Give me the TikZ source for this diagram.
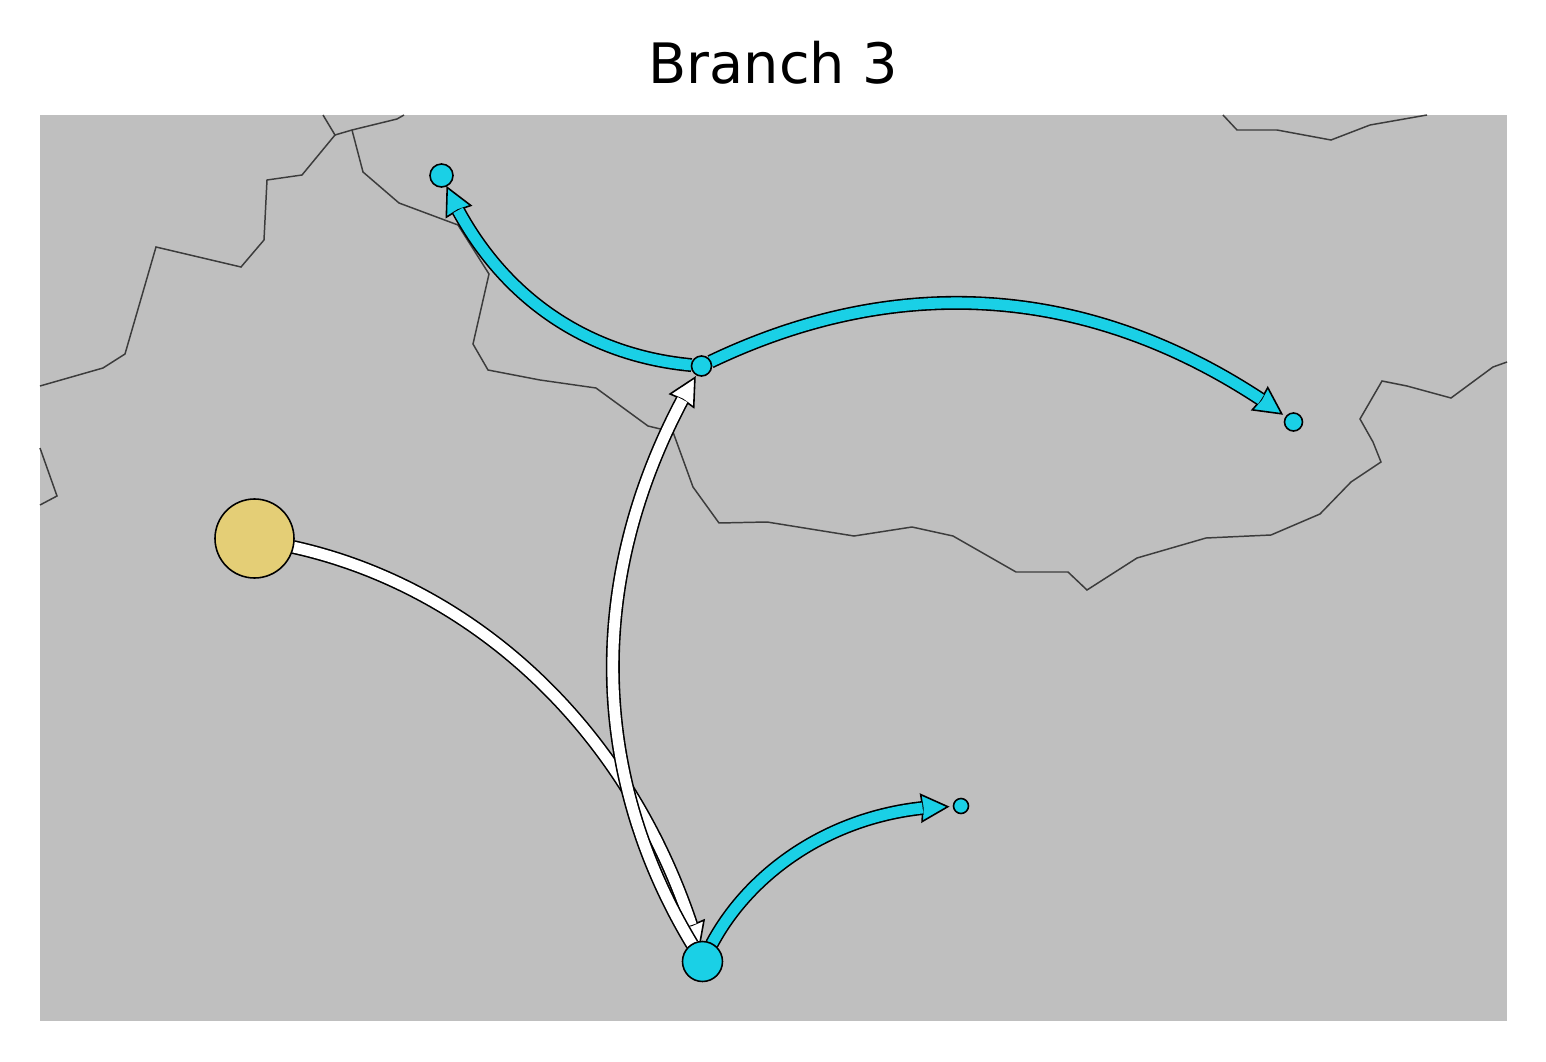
\documentclass[tikz,border=0pt]{standalone}
\usepackage{fontspec}
\setmainfont{DejaVu Sans}
\usetikzlibrary{arrows.meta, backgrounds}
\definecolor{mapgray}{RGB}{191, 191, 191}
\definecolor{bordergray}{RGB}{60, 60, 60}
\definecolor{branchblue}{RGB}{26, 208, 230}
\definecolor{sourcegold}{RGB}{228, 206, 118}

\begin{document}
\begin{tikzpicture}[
    stop/.style={circle, draw=black, line width=0.45pt, fill=branchblue, inner sep=0pt, outer sep=0pt},
    source/.style={stop, fill=sourcegold},
    border/.style={draw=bordergray, line width=0.42pt, line join=miter},
    flow/.style={line width=0.45pt, draw=black, double distance=0.108cm},
    whiteflow/.style={flow, double=white},
    blueflow/.style={flow, double=branchblue},
    whitehead/.style={line width=0.45pt, draw=black, -{Stealth[length=0.29cm, width=0.295cm, inset=0.015cm, line width=0.45pt, fill=white]}},
    bluehead/.style={line width=0.45pt, draw=black, -{Stealth[length=0.29cm, width=0.295cm, inset=0.015cm, line width=0.45pt, fill=branchblue]}}
]
    \useasboundingbox (0, 0) rectangle (15.46, 10.61);

    % Title
    \node[anchor=base, font=\fontsize{15.85}{20}\selectfont] (title) at (7.735, 9.78) {Branch 3};

    % Stops
    \node[source, minimum size=0.79cm] (origin) at (2.545, 5.225) {};
    \node[stop, minimum size=0.40cm] (south) at (7.025, 0.995) {};
    \node[stop, minimum size=0.20cm] (hub) at (7.015, 6.95) {};
    \node[stop, minimum size=0.23cm] (north) at (4.415, 8.855) {};
    \node[stop, minimum size=0.18cm] (east) at (12.935, 6.39) {};
    \node[stop, minimum size=0.15cm] (southeast) at (9.61, 2.55) {};

    % Necks of the arrow heads
    \coordinate (southneck) at (6.914, 1.359);
    \coordinate (hubneck) at (6.825, 6.614);
    \coordinate (southeastneck) at (9.226, 2.53);
    \coordinate (northneck) at (4.581, 8.507);
    \coordinate (eastneck) at (12.61, 6.616);

    \begin{pgfonlayer}{background}
    % Map
    \fill[mapgray] (0.40, 0.40) rectangle (15.07, 9.46);
    \draw[border] (0.40, 6.75) -- (1.03, 6.93) -- (1.25, 7.07) -- (1.56, 8.14) -- (2.41, 7.94) -- (2.64, 8.21) -- (2.67, 8.81) -- (3.02, 8.86) -- (3.35, 9.26) -- (3.23, 9.46);
    \draw[border] (3.35, 9.26) -- (3.52, 9.31) -- (3.97, 9.42) -- (4.04, 9.46);
    \draw[border] (3.52, 9.31) -- (3.63, 8.89) -- (3.99, 8.58) -- (4.58, 8.36) -- (4.89, 7.87) -- (4.73, 7.17) -- (4.88, 6.91) -- (5.40, 6.81) -- (5.96, 6.73) -- (6.48, 6.35) -- (6.73, 6.29) -- (6.93, 5.74) -- (7.19, 5.38) -- (7.67, 5.39) -- (8.54, 5.25) -- (9.12, 5.34) -- (9.53, 5.25) -- (10.16, 4.89) -- (10.68, 4.89) -- (10.87, 4.71) -- (11.37, 5.03) -- (12.06, 5.23) -- (12.71, 5.26) -- (13.20, 5.47) -- (13.51, 5.79) -- (13.81, 5.99) -- (13.73, 6.19) -- (13.60, 6.42) -- (13.82, 6.80) -- (14.07, 6.75) -- (14.51, 6.63) -- (14.93, 6.94) -- (15.07, 6.99);
    \draw[border] (12.23, 9.46) -- (12.37, 9.31) -- (12.77, 9.31) -- (13.31, 9.21) -- (13.70, 9.36) -- (14.27, 9.46);
    \draw[border] (0.40, 6.13) -- (0.57, 5.65) -- (0.40, 5.56);

    % Flows
    \draw[whitehead, shorten >=-0.09cm] (southneck) -- (south);
    \draw[whiteflow] (origin) .. controls (4.63, 4.766) and (6.215, 3.45) .. (southneck);
    \draw[whitehead, shorten >=0.016cm] (hubneck) -- (hub);
    \draw[whiteflow] (south) .. controls (5.932, 2.809) and (5.832, 4.739) .. (hubneck);
    \draw[bluehead, shorten >=0.04cm] (southeastneck) -- (southeast);
    \draw[blueflow] (south) .. controls (7.483, 1.855) and (8.247, 2.425) .. (southeastneck);
    \draw[bluehead] (northneck) -- (north);
    \draw[blueflow] (hub) .. controls (5.932, 7.05) and (5.088, 7.572) .. (northneck);
    \draw[bluehead, shorten >=0.036cm] (eastneck) -- (east);
    \draw[blueflow] (hub) .. controls (8.95, 7.875) and (10.845, 7.778) .. (eastneck);
    \end{pgfonlayer}
\end{tikzpicture}
\end{document}
